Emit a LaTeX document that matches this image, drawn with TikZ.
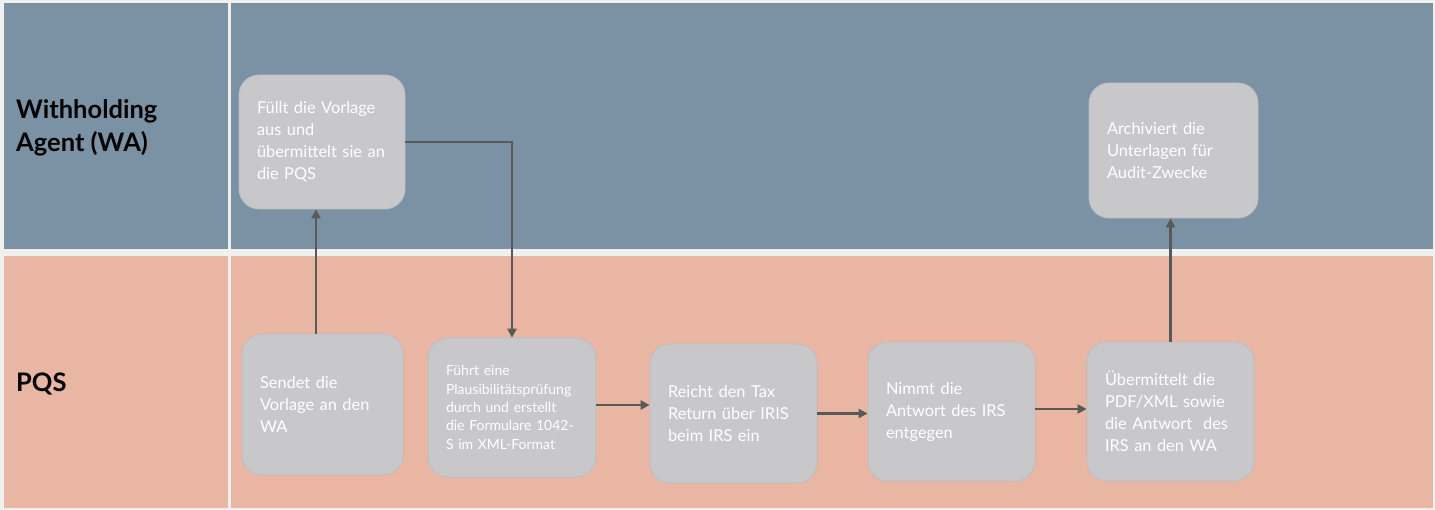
\documentclass[tikz,border=0pt]{standalone}
\usepackage{fontspec}
\setmainfont{Lato}
\usetikzlibrary{arrows.meta}
\definecolor{bgc}{HTML}{F0F0EE}
\definecolor{wac}{HTML}{7B92A5}
\definecolor{pqc}{HTML}{E8B6A3}
\definecolor{boxc}{HTML}{C8C8CA}
\definecolor{boxl}{HTML}{B8BEC6}
\definecolor{linec}{HTML}{595959}
\tikzset{
  lane/.style={fill=#1, draw=none},
  stepbox/.style={fill=boxc, draw=boxl, line width=0.8pt, rounded corners=20pt,
    inner xsep=18pt, inner ysep=0pt, align=left, text=white,
    font=\fontsize{16.4}{22}\selectfont},
  lanelabel/.style={anchor=west, align=left, text=black, inner sep=0pt,
    font=\fontsize{25.5}{33}\selectfont\bfseries},
  arr/.style={draw=linec, line width=2.8pt, -{Triangle[length=9pt,width=9pt]}}
}
\begin{document}
\begin{tikzpicture}[x=1pt,y=-1pt]
\fill[bgc] (0,0) rectangle (1435,510);
\useasboundingbox (0,0) rectangle (1435,510);
\fill[lane=wac] (4,3) rectangle (228,249);
\fill[lane=wac] (231,3) rectangle (1433,249);
\fill[lane=pqc] (4,256) rectangle (228,508);
\fill[lane=pqc] (231,256) rectangle (1433,508);

\node[lanelabel] (wa) at (16,128) {Withholding\\Agent (WA)};
\node[lanelabel] (pqs) at (16,384) {PQS};

\node[stepbox, text width=130pt, minimum height=134pt] (A) at (322,142)
  {Füllt die Vorlage\\aus und\\übermittelt sie an\\die PQS};
\node[stepbox, text width=125pt, minimum height=141pt] (B) at (322.5,404.5)
  {Sendet die\\Vorlage an den\\WA};
\node[stepbox, text width=132pt, minimum height=139pt,
  font=\fontsize{14}{18.3}\selectfont] (C) at (512,407.5)
  {Führt eine\\Plausibilitätsprüfung\\durch und erstellt\\die Formulare 1042-\\S im XML-Format};
\node[stepbox, text width=131pt, minimum height=139pt] (D) at (733.5,413.5)
  {Reicht den Tax\\Return über IRIS\\beim IRS ein};
\node[stepbox, text width=131pt, minimum height=139pt] (E) at (951.5,411.5)
  {Nimmt die\\Antwort des IRS\\entgegen};
\node[stepbox, text width=131pt, minimum height=139pt] (F) at (1170.5,411.5)
  {Übermittelt die\\PDF/XML sowie\\die Antwort\ \ des\\IRS an den WA};
\node[stepbox, text width=133pt, minimum height=135pt] (G) at (1173.5,150.5)
  {Archiviert die\\Unterlagen für\\Audit-Zwecke};

\draw[arr] ([xshift=-6.5pt]B.north) -- ([xshift=-6.5pt]B.north |- A.south);
\draw[arr] (A.east) -| (C.north);
\draw[arr] ([yshift=2.5pt]C.east) -- ([yshift=2.5pt]C.east -| D.west);
\draw[arr] (D.east) -- (D.east -| E.west);
\draw[arr] ([yshift=2.5pt]E.east) -- ([yshift=2.5pt]E.east -| F.west);
\draw[arr] (F.north) -- (F.north |- G.south);
\end{tikzpicture}
\end{document}
